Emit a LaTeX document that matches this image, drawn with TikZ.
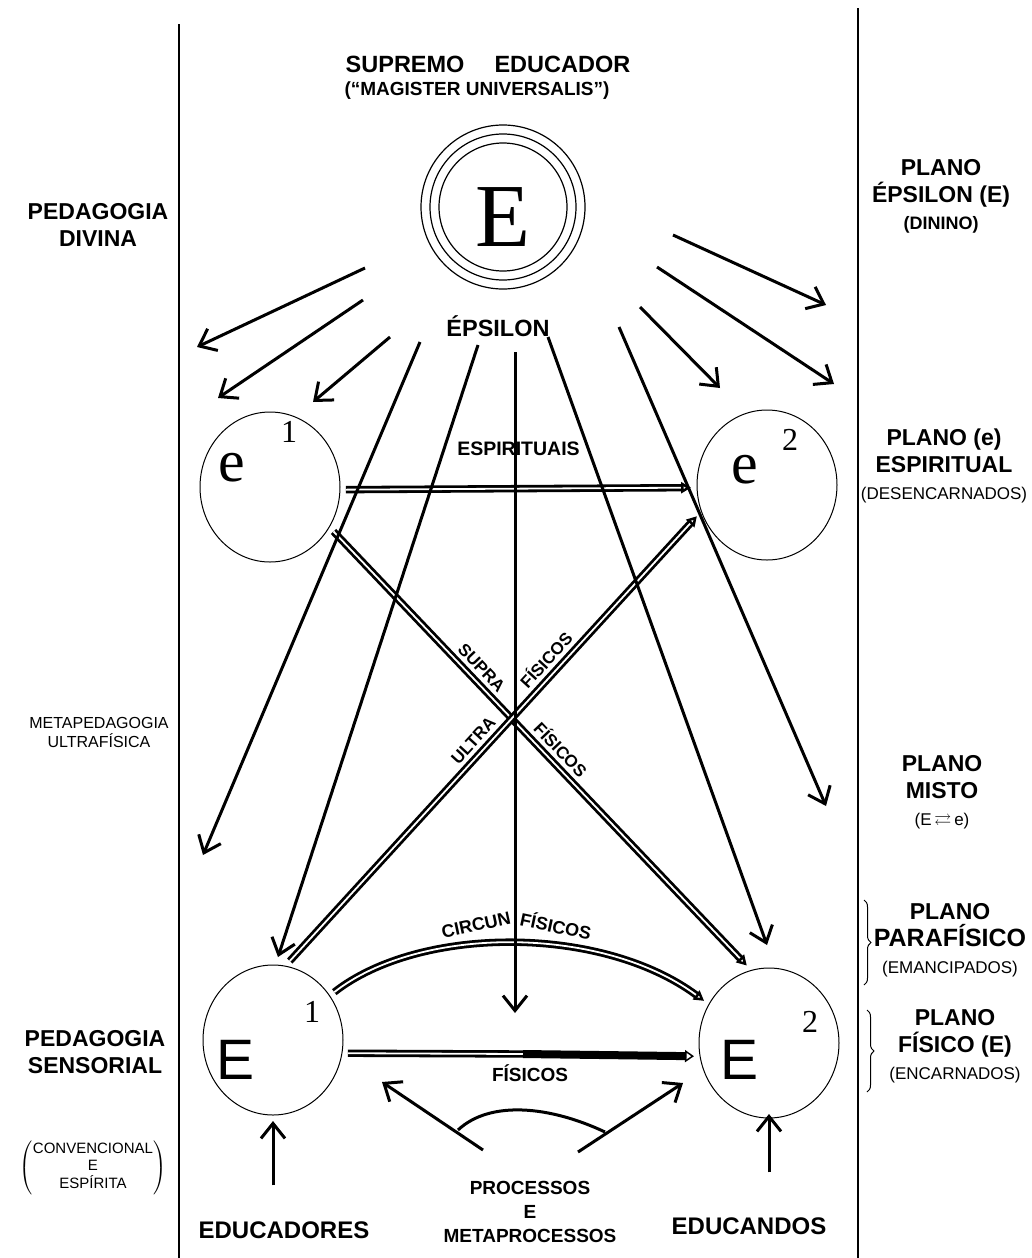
\documentclass[tikz,border=0pt]{standalone}
\usepackage{amssymb}
\usepackage{fontspec}
\setmainfont{Liberation Sans}
\newfontfamily\timesfam{Liberation Serif}
\usetikzlibrary{arrows.meta,shapes.geometric,decorations.pathreplacing}

\newcommand{\fsz}[2]{\fontsize{#1}{#2}\selectfont}

\tikzset{
  frame/.style={line width=1.5pt},
  plane/.style={ellipse, draw, line width=1pt, minimum width=140pt, minimum height=150pt, inner sep=0pt, outer sep=6pt},
  ray/.style={line width=3pt, -{Straight Barb[length=15pt,width=24pt]}},
  link/.style={double, line width=2.8pt, double distance=1.8pt, -{Triangle[open,length=10pt,width=11pt]}},
  tag/.style={align=center, inner sep=0pt},
  letter/.style={inner sep=0pt},
  crosslbl/.style={font=\bfseries\fsz{17}{19}, inner sep=0pt, sloped, above=6pt},
}

\begin{document}
\begin{tikzpicture}[x=1pt,y=-1pt]
\useasboundingbox (0,0) rectangle (1031,1258);

% frame lines
\draw[frame] (179,24) -- (179,1258);
\draw[frame] (858,8) -- (858,1258);

% supreme educator
\node[tag, font=\bfseries\fsz{23.5}{26}] (supremo) at (488,64) {SUPREMO\hspace{30pt}EDUCADOR};
\node[tag, font=\bfseries\fsz{19}{22}] (magister) at (477,91) {(“MAGISTER UNIVERSALIS”)};
\node[circle, draw, line width=1.2pt, minimum size=128pt, inner sep=0pt] (Eps) at (503,207) {};
\draw[line width=1.2pt] (Eps.center) circle[radius=73] (Eps.center) circle[radius=82];
\node[letter, font=\timesfam\fsz{90}{90}] (Elet) at ([yshift=-10pt]Eps.center) {E};
\node[tag, font=\bfseries\fsz{23.5}{26}] (epsname) at (498,326) {ÉPSILON};

% the four educators
\node[plane] (e1) at (270,487) {};
\node[plane] (e2) at (767,485) {};
\node[plane] (E1) at (273,1040) {};
\node[plane] (E2) at (769,1043) {};
\node[letter, font=\timesfam\fsz{60}{60}] (e1let) at ([xshift=-38pt,yshift=19pt]e1.center) {e};
\node[letter, font=\timesfam\fsz{32}{32}] (e1sup) at ([xshift=19pt,yshift=55pt]e1.center) {1};
\node[letter, font=\timesfam\fsz{60}{60}] (e2let) at ([xshift=-22pt,yshift=15pt]e2.center) {e};
\node[letter, font=\timesfam\fsz{32}{32}] (e2sup) at ([xshift=23pt,yshift=45pt]e2.center) {2};
\node[letter, font=\fsz{57}{57}] (E1let) at ([xshift=-37pt,yshift=-20pt]E1.center) {E};
\node[letter, font=\timesfam\fsz{32}{32}] (E1sup) at ([xshift=39pt,yshift=28pt]E1.center) {1};
\node[letter, font=\fsz{57}{57}] (E2let) at ([xshift=-29pt,yshift=-17pt]E2.center) {E};
\node[letter, font=\timesfam\fsz{32}{32}] (E2sup) at ([xshift=41pt,yshift=21pt]E2.center) {2};

% left column
\node[tag, font=\bfseries\fsz{23}{27}] (pedDiv) at (98,225) {PEDAGOGIA\\DIVINA};
\node[tag, font=\fsz{16}{19}] (metaPed) at (99,732) {METAPEDAGOGIA\\ULTRAFÍSICA};
\node[tag, font=\bfseries\fsz{23}{27}] (pedSens) at (95,1052) {PEDAGOGIA\\SENSORIAL};
\node[tag, font=\fsz{15}{17}] (convenc) at (93,1168)
  {$\left(\begin{tabular}{@{}c@{}}CONVENCIONAL\\E\\ESPÍRITA\end{tabular}\right)$};

% right column
\node[tag, font=\bfseries\fsz{23}{27}] (planoEps) at (941,196) {PLANO\\ÉPSILON (E)\\{\fsz{18}{22}(DININO)}};
\node[tag, font=\bfseries\fsz{23}{27}] (planoEsp) at (944,466) {PLANO (e)\\ESPIRITUAL\\{\mdseries\fsz{17}{20}(DESENCARNADOS)}};
\node[tag, font=\bfseries\fsz{23}{27}] (planoMisto) at (942,792) {PLANO\\MISTO\\{\mdseries\fsz{17}{20}(E\,$\rightleftarrows$\,e)}};
\node[tag, font=\bfseries\fsz{23}{27}] (planoPara) at (950,940) {PLANO\\{\fsz{25}{28}PARAFÍSICO}\\{\mdseries\fsz{17}{20}(EMANCIPADOS)}};
\node[tag, font=\bfseries\fsz{23}{27}] (planoFis) at (955,1046) {PLANO\\FÍSICO (E)\\{\mdseries\fsz{17}{20}(ENCARNADOS)}};
\coordinate (paraTop) at (864,900);
\coordinate (paraBot) at (864,985);
\coordinate (fisTop) at (867,1010);
\coordinate (fisBot) at (867,1092);
\draw[decorate, decoration={brace, amplitude=7pt}, line width=1pt] (paraTop) -- (paraBot);
\draw[decorate, decoration={brace, amplitude=7pt}, line width=1pt] (fisTop) -- (fisBot);

% bottom
\node[tag, font=\bfseries\fsz{24}{28}] (educadores) at (284,1230) {EDUCADORES};
\node[tag, font=\bfseries\fsz{24}{28}] (educandos) at (749,1226) {EDUCANDOS};
\node[tag, font=\bfseries\fsz{19}{24}] (processos) at (530,1212) {PROCESSOS\\E\\METAPROCESSOS};
\coordinate (educadoresTop) at ([yshift=36pt]educadores.north);
\coordinate (educandosTop) at ([yshift=45pt]educandos.north);
\draw[ray] (educadoresTop -| E1.south) -- (E1.south);
\draw[ray, shorten >=-10pt] (educandosTop -| E2.south) -- (E2.south);
\coordinate (procL) at (483,1150);
\coordinate (procLtip) at (382,1082);
\coordinate (procR) at (578,1152);
\coordinate (procRtip) at (683,1083);
\coordinate (arcL) at (458,1130);
\coordinate (arcR) at (605,1132);
\draw[ray] (procL) -- (procLtip);
\draw[ray] (procR) -- (procRtip);
\draw[line width=3pt] (arcL) .. controls (490,1100) and (550,1106) .. (arcR);

% links between the educators
\draw[link] (e1.-2) -- node[midway, above=32pt, font=\bfseries\fsz{19.5}{22}, inner sep=0pt] (espLbl) {ESPIRITUAIS} (e2.182);
\draw[link] (e1.-35) -- node[crosslbl, pos=.335] (supraA) {SUPRA}
                        node[crosslbl, pos=.525] (supraB) {FÍSICOS} (E2.106);
\draw[link] (E1.78) -- node[crosslbl, pos=.475] (ultraA) {ULTRA}
                       node[crosslbl, pos=.655] (ultraB) {FÍSICOS} (e2.204);
\draw[link] (E1.38) .. controls (420,925) and (602,925) .. (E2.147);
\node[tag, font=\bfseries\fsz{18}{20}, rotate=12] (circunA) at (476,925) {CIRCUN};
\node[tag, font=\bfseries\fsz{18}{20}, rotate=-12] (circunB) at (556,925) {FÍSICOS};
\coordinate (fmid) at (523,1054);
\draw[link, -] (E1.-10) -- (fmid);
\draw[line width=8pt, -{Triangle[open, line width=1.5pt, length=9pt, width=12pt]}] (fmid) -- (E2.190);
\node[tag, font=\bfseries\fsz{19}{22}] (fisLbl) at (530,1073) {FÍSICOS};

% rays from the supreme educator
\foreach \n/\sx/\sy/\ex/\ey in {1/365/268/197/347, 2/363/300/218/398, 3/390/337/313/402,
    4/420/342/203/855, 5/478/345/278/957, 6/515/352/515/1013, 7/548/337/767/945,
    8/619/327/826/806, 9/640/307/720/388, 10/657/267/834/384, 11/673/235/826/305}{
  \coordinate (rs\n) at (\sx,\sy);
  \coordinate (re\n) at (\ex,\ey);
  \draw[ray] (rs\n) -- (re\n);
}
\end{tikzpicture}
\end{document}
